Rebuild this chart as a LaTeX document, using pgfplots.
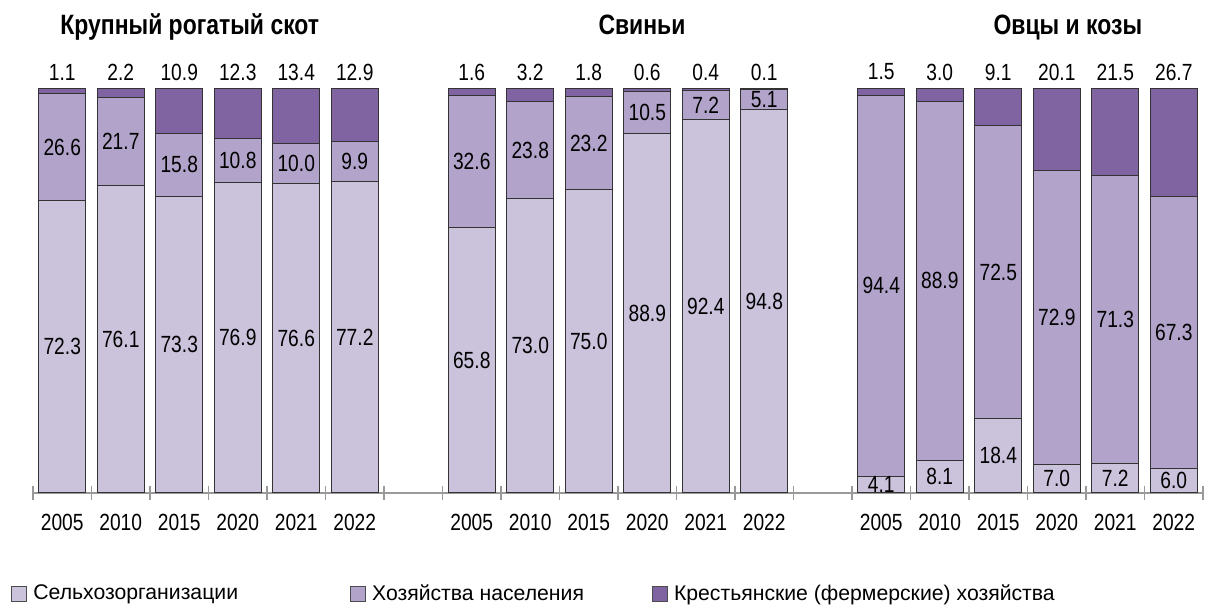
\documentclass[border=0pt]{standalone}
\usepackage{pgfplots}
\pgfplotsset{compat=1.18}
\usepackage{pgfplotstable}
\usepackage{fontspec}
\setmainfont{Liberation Sans}[FakeStretch=0.82]
\newfontfamily\legfont{Liberation Sans}

\definecolor{cSel}{HTML}{CBC2DC}
\definecolor{cHoz}{HTML}{B1A3C9}
\definecolor{cKfh}{HTML}{8064A2}
\definecolor{axgray}{HTML}{9A9A9A}

\newcommand{\numfont}{\fontsize{11.7}{14}\selectfont}

% shares, %: x = slot position (6 and 13 are the gaps between groups)
\pgfplotstableread{
x   sel   hoz   kfh
0   72.3  26.6  1.1
1   76.1  21.7  2.2
2   73.3  15.8  10.9
3   76.9  10.8  12.3
4   76.6  10.0  13.4
5   77.2  9.9   12.9
7   65.8  32.6  1.6
8   73.0  23.8  3.2
9   75.0  23.2  1.8
10  88.9  10.5  0.6
11  92.4  7.2   0.4
12  94.8  5.1   0.1
14  4.1   94.4  1.5
15  8.1   88.9  3.0
16  18.4  72.5  9.1
17  7.0   72.9  20.1
18  7.2   71.3  21.5
19  6.0   67.3  26.7
}\data

\pgfplotsset{
  frame/.style={
    at={(0,0)}, anchor=south west,
    scale only axis,
    width=585pt, height=202pt,
    xmin=-0.5, xmax=19.5, ymin=0, ymax=100,
    enlarge x limits=false, enlarge y limits=false,
    clip=false,
    /pgf/number format/assume math mode=true,
  }
}

\begin{document}
\begin{tikzpicture}
\useasboundingbox (-16.5pt,-57.5pt) rectangle (586.5pt,246.5pt);
\begin{axis}[
    frame,
    ybar stacked,
    bar width=0.8,
    axis y line=none,
    axis x line*=bottom,
    x axis line style={axgray, line width=0.6pt},
    xtick={0,1,2,3,4,5,7,8,9,10,11,12,14,15,16,17,18,19},
    xticklabels={2005,2010,2015,2020,2021,2022,2005,2010,2015,2020,2021,2022,2005,2010,2015,2020,2021,2022},
    major tick length=0pt,
    xticklabel style={font=\numfont, anchor=center, yshift=-14.5pt},
    extra x ticks={-0.5,0.5,...,19.5},
    extra x tick labels={},
    extra x tick style={major tick length=7pt, tick align=center,
      tick style={axgray, line width=0.6pt}},
    legend columns=3,
    legend style={at={(-0.0188,-0.25)}, anchor=west, draw=none, fill=none,
      inner sep=0pt, font=\legfont\fontsize{10.6}{13}\selectfont,
      /tikz/column 2/.style={column sep=54pt},
      /tikz/column 4/.style={column sep=32pt}},
    legend image code/.code={\draw[#1, draw=black!70, line width=0.5pt] (0pt,-3.75pt) rectangle (7.5pt,3.75pt); \path (8.5pt,0pt);},
    legend cell align=left,
]
\addplot[fill=cSel, draw=black!80, line width=0.5pt] table[x=x, y=sel] {\data};
\addlegendentry{Сельхозорганизации}
\addplot[fill=cHoz, draw=black!80, line width=0.5pt] table[x=x, y=hoz] {\data};
\addlegendentry{Хозяйства населения}
\addplot[fill=cKfh, draw=black!80, line width=0.5pt] table[x=x, y=kfh] {\data};
\addlegendentry{Крестьянские (фермерские) хозяйства}

\node[font=\fontsize{14}{16}\selectfont\bfseries, anchor=base] at (axis cs:2.18,113.4) {Крупный рогатый скот};
\node[font=\fontsize{14}{16}\selectfont\bfseries, anchor=base] at (axis cs:9.91,113.4) {Свиньи};
\node[font=\fontsize{14}{16}\selectfont\bfseries, anchor=base] at (axis cs:17.19,113.4) {Овцы и козы};
\end{axis}

% value labels, centred in each segment and above each bar
\begin{axis}[
    frame,
    hide axis,
    nodes near coords={\pgfmathprintnumber[fixed,zerofill,precision=1]{\pgfplotspointmeta}},
    every node near coord/.style={anchor=center, font=\numfont, text=black, inner sep=0pt},
]
\addplot[draw=none, mark=none, point meta=explicit] table[x=x, y expr=\thisrow{sel}/2, meta=sel] {\data};
\addplot[draw=none, mark=none, point meta=explicit] table[x=x, y expr=\thisrow{sel}+\thisrow{hoz}/2, meta=hoz] {\data};
\addplot[draw=none, mark=none, point meta=explicit] table[x=x, y expr=104.2, meta=kfh] {\data};
\end{axis}
\end{tikzpicture}
\end{document}
